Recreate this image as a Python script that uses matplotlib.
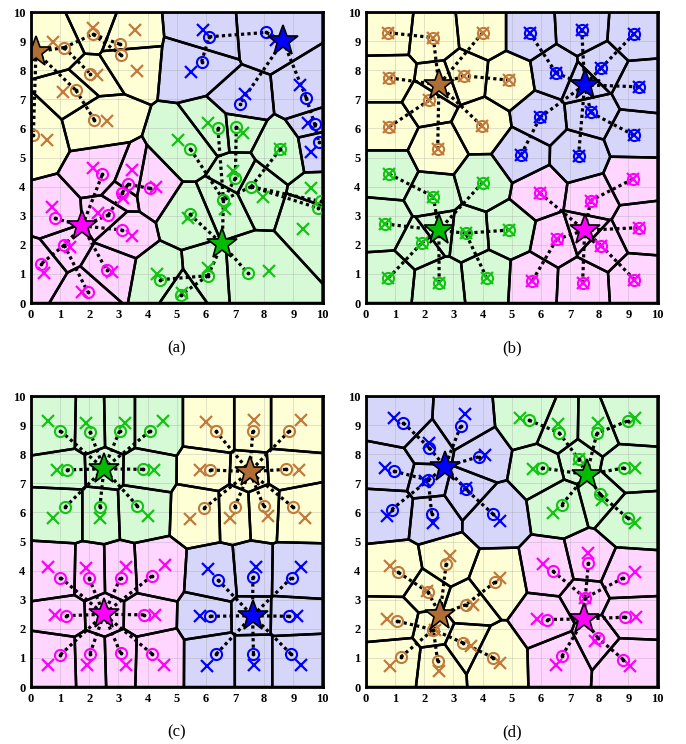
import numpy as np
import matplotlib
matplotlib.use("Agg")
import matplotlib.pyplot as plt
from matplotlib.patches import Polygon

# colours: marker, star, cell fill
BROWN = ("#C27A3C", "#B06E35", "#FFFFD6")
BLUE = ("#0000FF", "#0000FF", "#D6D6FA")
GREEN = ("#12C412", "#00BB00", "#D6FAD6")
PINK = ("#FF00FF", "#FF00FF", "#FFD6FF")

# ---------------- panel (a) ----------------
A_BROWN_O = [(1.14, 8.78), (2.13, 9.24), (3.05, 8.89), (3.08, 8.53), (2.04, 7.87),
             (1.54, 7.31), (2.17, 6.30), (0.08, 5.76)]
A_BROWN_X = [(0.76, 8.96), (2.13, 9.44), (3.56, 9.38), (3.62, 7.96), (2.25, 7.84),
             (1.11, 7.24), (2.59, 6.24), (0.54, 5.62)]
A_BROWN_STAR = (0.17, 8.63)
A_BROWN_LINKS = [(-1, 7), (-1, 0), (0, 1), (1, 2), (1, 3), (0, 4), (-1, 5), (5, 6)]

A_BLUE_O = [(6.11, 9.15), (5.85, 8.29), (8.07, 9.30), (7.16, 6.83), (9.44, 7.05),
            (9.73, 6.14), (9.87, 5.52)]
A_BLUE_X = [(5.90, 9.38), (5.50, 7.95), (8.40, 9.05), (7.33, 7.17), (9.21, 7.49),
            (9.50, 6.20), (9.61, 5.20)]
A_BLUE_STAR = (8.65, 9.0)
A_BLUE_LINKS = [(1, 0), (0, 2), (2, -1), (-1, 3), (-1, 4), (4, 5), (5, 6)]

A_GREEN_O = [(6.41, 6.00), (7.04, 6.06), (5.47, 5.29), (8.55, 5.29), (7.01, 4.29),
             (7.55, 4.00), (6.60, 3.54), (9.94, 3.49), (9.86, 3.26), (5.44, 3.05),
             (7.43, 1.03), (6.07, 0.94), (5.15, 0.29), (4.41, 0.80)]
A_GREEN_X = [(6.07, 6.17), (7.26, 5.83), (5.04, 5.60), (8.55, 5.29), (6.92, 4.55),
             (9.60, 3.94), (7.95, 3.66), (6.67, 3.22), (5.38, 2.91), (9.32, 2.54),
             (8.18, 1.09), (6.07, 1.20), (4.32, 0.99), (5.19, 0.34)]
A_GREEN_STAR = (6.56, 2.03)
A_GREEN_LINKS = [(0, 6), (1, 4), (4, 6), (2, 6), (3, 5), (5, 7), (5, 8), (5, 6),
                 (6, -1), (9, -1), (-1, 10), (-1, 11), (11, 12), (11, 13)]

A_PINK_O = [(2.45, 4.43), (3.33, 4.08), (3.13, 3.79), (4.08, 3.94), (2.65, 3.02),
            (0.82, 2.91), (3.11, 2.51), (1.14, 1.99), (0.34, 1.34), (2.59, 1.13),
            (1.94, 0.39)]
A_PINK_X = [(2.13, 4.63), (3.45, 4.57), (4.30, 3.99), (3.16, 3.60), (2.31, 3.08),
            (0.73, 3.31), (3.45, 2.30), (1.34, 1.93), (0.46, 1.02), (2.78, 1.08),
            (1.76, 0.39)]
A_PINK_STAR = (1.76, 2.65)
A_PINK_LINKS = [(-1, 0), (-1, 4), (4, 2), (2, 1), (1, 3), (-1, 5), (-1, 6), (-1, 7),
                (7, 8), (7, 10), (-1, 9)]

# ---------------- panel (b) ----------------
B_BROWN_O = [(0.77, 9.29), (2.31, 9.12), (4.00, 9.29), (0.80, 7.74), (3.36, 7.81),
             (4.91, 7.66), (2.17, 6.97), (0.80, 6.06), (3.97, 6.09), (2.46, 5.28)]
B_BROWN_STAR = (2.5, 7.5)
B_BROWN_LINKS = [(0, 1), (1, -1), (2, -1), (3, -1), (4, -1), (5, 4), (6, -1), (7, 6),
                 (8, -1), (9, -1)]

B_BLUE_O = [(5.61, 9.29), (7.40, 9.39), (9.20, 9.26), (6.52, 7.91), (8.07, 8.08),
            (9.35, 7.43), (5.97, 6.38), (7.71, 6.55), (9.18, 5.77), (5.32, 5.09),
            (7.29, 5.05)]
B_BLUE_STAR = (7.5, 7.5)
B_BLUE_LINKS = [(0, 3), (3, -1), (1, -1), (2, 4), (4, -1), (5, -1), (6, -1), (7, -1),
                (8, 7), (9, 6), (10, -1)]

B_GREEN_O = [(0.80, 4.43), (2.31, 3.66), (4.00, 4.14), (0.65, 2.72), (3.42, 2.40),
             (4.92, 2.51), (1.91, 2.06), (0.77, 0.86), (2.51, 0.69), (4.14, 0.86)]
B_GREEN_STAR = (2.5, 2.5)
B_GREEN_LINKS = [(0, 1), (1, -1), (2, -1), (3, -1), (4, -1), (5, 4), (6, -1), (7, 6),
                 (8, -1), (9, 4)]

B_PINK_O = [(5.97, 3.77), (7.71, 3.52), (9.15, 4.26), (9.35, 2.59), (6.54, 2.19),
            (8.07, 1.97), (5.71, 0.77), (7.43, 0.69), (9.21, 0.80)]
B_PINK_STAR = (7.5, 2.5)
B_PINK_LINKS = [(0, -1), (1, -1), (2, 1), (3, -1), (4, -1), (5, -1), (6, 4), (7, -1),
                (8, 5)]

# ---------------- panel (c) ----------------
C_GREEN_O = [(1.01, 8.80), (2.02, 8.78), (3.04, 8.80), (4.09, 8.80), (1.22, 7.46),
             (3.84, 7.48), (1.16, 6.17), (2.36, 6.17), (3.65, 6.22)]
C_GREEN_X = [(0.57, 9.14), (1.90, 9.08), (3.22, 9.08), (4.53, 9.15), (0.88, 7.46),
             (4.21, 7.46), (0.76, 5.82), (2.36, 5.82), (4.01, 5.86)]
C_GREEN_STAR = (2.5, 7.5)

C_BROWN_O = [(6.33, 8.80), (7.61, 8.80), (8.86, 8.80), (6.15, 7.46), (8.75, 7.48),
             (5.93, 6.14), (6.98, 6.17), (7.98, 6.22), (9.00, 6.17)]
C_BROWN_X = [(5.99, 9.12), (7.66, 9.18), (9.26, 9.18), (5.78, 7.46), (9.20, 7.46),
             (5.47, 5.77), (6.81, 5.82), (8.12, 5.86), (9.41, 5.82)]
C_BROWN_STAR = (7.5, 7.4)

C_PINK_O = [(1.01, 3.76), (1.99, 3.74), (3.07, 3.76), (4.15, 3.82), (1.20, 2.45),
            (3.87, 2.48), (1.01, 1.11), (2.02, 1.14), (3.07, 1.17), (4.15, 1.14)]
C_PINK_X = [(0.59, 4.11), (1.88, 4.08), (3.25, 4.14), (4.58, 4.20), (0.82, 2.46),
            (4.24, 2.48), (0.59, 0.77), (1.93, 0.77), (3.25, 0.77), (4.56, 0.77)]
C_PINK_STAR = (2.5, 2.5)

C_BLUE_O = [(6.41, 3.68), (7.61, 3.78), (8.94, 3.76), (6.15, 2.43), (8.86, 2.43),
            (6.35, 1.13), (7.63, 1.13), (8.92, 1.13)]
C_BLUE_X = [(6.07, 4.05), (7.72, 4.14), (9.26, 4.14), (5.78, 2.43), (9.14, 2.43),
            (6.03, 0.73), (7.66, 0.77), (9.26, 0.77)]
C_BLUE_STAR = (7.6, 2.45)

# ---------------- panel (d) ----------------
D_BLUE_O = [(1.28, 9.08), (2.17, 8.22), (3.25, 8.97), (3.86, 7.91), (0.96, 7.42),
            (2.14, 7.11), (3.43, 6.79), (0.88, 6.10), (2.25, 5.96), (4.37, 5.93)]
D_BLUE_X = [(0.96, 9.25), (2.17, 8.39), (3.40, 9.37), (4.08, 7.99), (0.65, 7.53),
            (2.03, 7.08), (3.43, 6.85), (0.71, 5.87), (2.31, 5.64), (4.58, 5.70)]
D_BLUE_STAR = (2.71, 7.57)
D_BLUE_LINKS = [(0, 1), (1, -1), (2, -1), (3, -1), (4, 5), (5, -1), (7, 5), (8, 5),
                (6, -1), (9, 6)]

D_GREEN_O = [(5.59, 9.17), (6.62, 8.74), (7.92, 8.72), (8.97, 9.14), (6.03, 7.53),
             (7.29, 7.84), (8.86, 7.53), (6.72, 6.27), (8.03, 6.62), (8.97, 5.81)]
D_GREEN_X = [(5.29, 9.25), (6.59, 9.03), (7.97, 9.08), (9.23, 9.25), (5.72, 7.48),
             (7.29, 7.82), (9.23, 7.53), (6.43, 5.99), (8.09, 6.42), (9.23, 5.62)]
D_GREEN_STAR = (7.57, 7.30)
D_GREEN_LINKS = [(0, 1), (1, 5), (5, -1), (2, -1), (3, 2), (4, -1), (6, -1), (7, -1),
                 (8, -1), (9, 8)]

D_BROWN_O = [(1.11, 3.94), (2.75, 4.23), (2.12, 3.27), (1.08, 2.26), (2.31, 1.97),
             (3.43, 2.83), (4.43, 3.61), (3.34, 1.51), (1.19, 1.03), (2.46, 0.88),
             (4.37, 1.00)]
D_BROWN_X = [(0.82, 4.15), (2.88, 4.50), (2.08, 3.29), (0.71, 2.34), (2.37, 1.97),
             (3.68, 2.83), (4.60, 3.75), (3.60, 1.40), (0.82, 0.73), (2.52, 0.54),
             (4.60, 0.83)]
D_BROWN_STAR = (2.54, 2.49)
D_BROWN_LINKS = [(0, 2), (2, -1), (1, -1), (6, 5), (5, -1), (3, 4), (4, -1), (7, 4),
                 (10, 7), (8, 4), (9, 4)]

D_PINK_O = [(6.41, 3.98), (7.63, 4.27), (8.83, 3.75), (7.52, 3.06), (6.22, 2.32),
            (8.89, 2.40), (7.95, 1.69), (6.72, 1.06), (8.83, 0.94)]
D_PINK_X = [(6.06, 4.24), (7.63, 4.61), (9.23, 3.94), (7.52, 3.06), (5.86, 2.34),
            (9.26, 2.41), (7.86, 1.57), (6.52, 0.75), (9.06, 0.71)]
D_PINK_STAR = (7.49, 2.34)
D_PINK_LINKS = [(0, 3), (1, 3), (2, 3), (3, -1), (4, -1), (5, -1), (6, -1), (8, 6),
                (7, -1)]


def star_links(n):
    return [(k, -1) for k in range(n)]


# (circles, crosses, star, links, colours); crosses None -> same as circles
panels = [
    ("(a)", False, [
        (A_BROWN_O, A_BROWN_X, A_BROWN_STAR, A_BROWN_LINKS, BROWN),
        (A_BLUE_O, A_BLUE_X, A_BLUE_STAR, A_BLUE_LINKS, BLUE),
        (A_GREEN_O, A_GREEN_X, A_GREEN_STAR, A_GREEN_LINKS, GREEN),
        (A_PINK_O, A_PINK_X, A_PINK_STAR, A_PINK_LINKS, PINK)]),
    ("(b)", True, [
        (B_BROWN_O, None, B_BROWN_STAR, B_BROWN_LINKS, BROWN),
        (B_BLUE_O, None, B_BLUE_STAR, B_BLUE_LINKS, BLUE),
        (B_GREEN_O, None, B_GREEN_STAR, B_GREEN_LINKS, GREEN),
        (B_PINK_O, None, B_PINK_STAR, B_PINK_LINKS, PINK)]),
    ("(c)", True, [
        (C_GREEN_O, C_GREEN_X, C_GREEN_STAR, star_links(len(C_GREEN_O)), GREEN),
        (C_BROWN_O, C_BROWN_X, C_BROWN_STAR, star_links(len(C_BROWN_O)), BROWN),
        (C_PINK_O, C_PINK_X, C_PINK_STAR, star_links(len(C_PINK_O)), PINK),
        (C_BLUE_O, C_BLUE_X, C_BLUE_STAR, star_links(len(C_BLUE_O)), BLUE)]),
    ("(d)", False, [
        (D_BLUE_O, D_BLUE_X, D_BLUE_STAR, D_BLUE_LINKS, BLUE),
        (D_GREEN_O, D_GREEN_X, D_GREEN_STAR, D_GREEN_LINKS, GREEN),
        (D_BROWN_O, D_BROWN_X, D_BROWN_STAR, D_BROWN_LINKS, BROWN),
        (D_PINK_O, D_PINK_X, D_PINK_STAR, D_PINK_LINKS, PINK)]),
]


def clip(poly, a, b):
    # keep the half of poly that is closer to a than to b
    d = b - a
    c = d.dot((a + b) / 2)
    out = []
    n = len(poly)
    for k in range(n):
        p, q = poly[k], poly[(k + 1) % n]
        fp, fq = p.dot(d) - c, q.dot(d) - c
        if fp <= 0:
            out.append(p)
        if fp * fq < 0:
            out.append(p + fp / (fp - fq) * (q - p))
    return out


def voronoi(sites):
    box = [np.array(v, float) for v in [(0, 0), (10, 0), (10, 10), (0, 10)]]
    cells = []
    for i, s in enumerate(sites):
        poly = box
        for j, t in enumerate(sites):
            if i != j and len(poly) > 2:
                poly = clip(poly, s, t)
        cells.append(np.array(poly))
    return cells


serif = "Liberation Serif"
fig = plt.figure(figsize=(6.86, 7.44), dpi=100)
boxes = [(0.0452, 0.5927), (0.5335, 0.5927), (0.0452, 0.0766), (0.5335, 0.0766)]
label_y = [0.521, 0.521, 0.005, 0.005]

for (label, star_site, groups), (x0, y0), ly in zip(panels, boxes, label_y):
    ax = fig.add_axes([x0, y0, 0.4250, 0.3911])
    ax.set_xlim(0, 10)
    ax.set_ylim(0, 10)

    sites, fills = [], []
    for circ, cross, star, links, col in groups:
        for p in circ:
            sites.append(np.array(p, float))
            fills.append(col[2])
        if star_site:
            sites.append(np.array(star, float))
            fills.append(col[2])

    for cell, fc in zip(voronoi(sites), fills):
        ax.add_patch(Polygon(cell, closed=True, fc=fc, ec="none", zorder=1))
        ax.add_patch(Polygon(cell, closed=True, fill=False, ec="black", lw=1.8,
                             joinstyle="round", zorder=3))

    for circ, cross, star, links, col in groups:
        pts = list(circ)
        for i, j in links:
            p = star if i == -1 else pts[i]
            q = star if j == -1 else pts[j]
            ax.plot([p[0], q[0]], [p[1], q[1]], color="black", lw=2.3,
                    ls=(0, (1.0, 1.0)), zorder=4)
        xs = [p[0] for p in circ]
        ys = [p[1] for p in circ]
        if cross is None:
            cx, cy = xs, ys
        else:
            cx = [p[0] for p in cross]
            cy = [p[1] for p in cross]
        ax.plot(cx, cy, ls="none", marker="x", ms=9, mew=1.6, color=col[0], zorder=5)
        ax.plot(xs, ys, ls="none", marker="o", ms=8, mew=1.5, mfc="none",
                mec=col[0], zorder=5)
        if cross is not None:
            ax.plot(xs, ys, ls="none", marker=".", ms=3.5, color="black", zorder=5)
        ax.plot([star[0]], [star[1]], marker="*", ms=23, mfc=col[1], mec="black",
                mew=1.2, zorder=6)

    ax.set_xticks(range(11))
    ax.set_yticks(range(11))
    ax.set_axisbelow(False)
    ax.grid(True, color="#9a9a9a", lw=0.6, alpha=0.35)
    ax.tick_params(length=0, pad=4)
    for t in ax.get_xticklabels() + ax.get_yticklabels():
        t.set_fontfamily(serif)
        t.set_fontweight("bold")
        t.set_fontsize(9)
    for s in ax.spines.values():
        s.set_linewidth(2.0)
        s.set_zorder(7)
    fig.text(x0 + 0.2125, ly, label, ha="center", va="bottom", family=serif,
             fontsize=12)

fig.savefig("out.png", dpi=100)
